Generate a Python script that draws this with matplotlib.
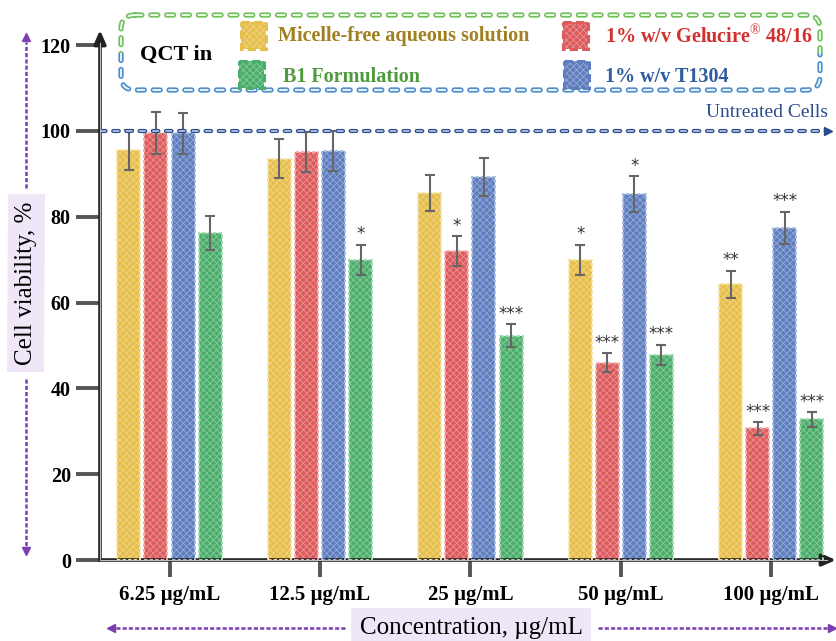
import matplotlib
matplotlib.use('Agg')
import matplotlib.pyplot as plt
import numpy as np
from matplotlib.patches import FancyBboxPatch, Rectangle

plt.rcParams['lines.scale_dashes'] = False
plt.rcParams['hatch.linewidth'] = 0.6
plt.rcParams['mathtext.fontset'] = 'custom'
plt.rcParams['mathtext.rm'] = 'Liberation Serif'

# data
concs = ['6.25 µg/mL', '12.5 µg/mL', '25 µg/mL', '50 µg/mL', '100 µg/mL']
micelle_free = [95.5, 93.5, 85.5, 70.0, 64.2]
micelle_free_err = [4.7, 4.6, 4.2, 3.5, 3.2]
gelucire = [99.5, 95.1, 72.0, 46.0, 30.7]
gelucire_err = [4.8, 4.7, 3.5, 2.2, 1.5]
t1304 = [99.4, 95.3, 89.3, 85.3, 77.4]
t1304_err = [4.8, 4.7, 4.4, 4.2, 3.8]
b1 = [76.2, 70.0, 52.3, 47.8, 32.8]
b1_err = [3.9, 3.5, 2.7, 2.4, 1.7]
stars_micelle = ['', '', '', '*', '**']
stars_gelucire = ['', '', '*', '***', '***']
stars_t1304 = ['', '', '', '*', '***']
stars_b1 = ['', '*', '***', '***', '***']
untreated = 100

# face, hatch, dashed edge
styles = {
    'yellow': ('#e6be4c', '#f0d482', '#f7e3a0'),
    'red': ('#dc5b5d', '#ea9192', '#f2b0b0'),
    'blue': ('#5f7ebd', '#93a9d8', '#aabde2'),
    'green': ('#4bad6b', '#86cb9a', '#a2d9b2'),
}

W, H = 836, 641
fig = plt.figure(figsize=(W / 100, H / 100), dpi=100)
ax = fig.add_axes([100 / W, (H - 560) / H, 736 / W, 530 / H])

x = np.arange(len(concs))
width = 0.153
step = 0.18
xl, xr = -0.462, 4.43
ytop = 123.5

groups = [
    (micelle_free, micelle_free_err, stars_micelle, 'yellow'),
    (gelucire, gelucire_err, stars_gelucire, 'red'),
    (t1304, t1304_err, stars_t1304, 'blue'),
    (b1, b1_err, stars_b1, 'green'),
]

for i, (vals, errs, stars, c) in enumerate(groups):
    face, hc, ec = styles[c]
    xs = x + (i - 1.5) * step
    ax.bar(xs, vals, width, color=face, edgecolor='none', zorder=2)
    ax.bar(xs, vals, width, fill=False, hatch='xxxxx', edgecolor=hc, lw=0, zorder=3)
    ax.bar(xs, vals, width, fill=False, edgecolor=ec, lw=1.4,
           linestyle=(0, (2.5, 1.5)), zorder=4)
    ax.errorbar(xs, vals, yerr=errs, fmt='none', ecolor='#666666',
                elinewidth=1.5, capsize=3.5, capthick=1.5, zorder=5)
    for j, s in enumerate(stars):
        if s:
            ax.text(xs[j], vals[j] + errs[j] + 0.3, s, ha='center', va='bottom',
                    fontsize=12, color='#333333', zorder=6)

# untreated cells reference line
ax.plot([xl, xr - 0.06], [untreated, untreated], color='#2b4c8c', lw=3,
        linestyle=(0, (4, 5.5)), dash_capstyle='round', zorder=7)
ax.plot([xl, xr - 0.06], [untreated, untreated], color='#c9d5ee', lw=1.1,
        linestyle=(0, (4, 5.5)), dash_capstyle='round', zorder=7)
ax.plot([xr - 0.05], [untreated], marker='>', color='#2b4c8c', ms=6, zorder=7, clip_on=False)
ax.text(xr - 0.05, untreated + 2.2, 'Untreated Cells', ha='right', va='bottom',
        fontsize=14, color='#2b4c8c', family='Liberation Serif')

ax.set_xlim(xl, xr)
ax.set_ylim(0, ytop)
for sp in ax.spines.values():
    sp.set_visible(False)

# axis lines with arrows
ax.annotate('', xy=(xl, ytop), xytext=(xl, 0), annotation_clip=False,
            arrowprops=dict(arrowstyle='-|>,head_width=0.35,head_length=0.8',
                            lw=2.6, color='#222222', shrinkA=0, shrinkB=0))
ax.annotate('', xy=(xr, 0), xytext=(xl, 0), annotation_clip=False,
            arrowprops=dict(arrowstyle='-|>,head_width=0.35,head_length=0.8',
                            lw=2.6, color='#222222', shrinkA=0, shrinkB=0))
ax.plot([xl, xl], [0, ytop - 3], color='#bbbbbb', lw=0.8, clip_on=False, zorder=8)
ax.plot([xl, xr - 0.06], [0, 0], color='#bbbbbb', lw=0.8, clip_on=False, zorder=8)

ax.set_yticks(range(0, 121, 20))
ax.set_xticks(x)
ax.set_xticklabels(concs)
ax.tick_params(axis='y', direction='out', length=17, width=2.8, color='#555555', pad=4)
ax.tick_params(axis='x', direction='out', length=12, width=2.8, color='#555555', pad=6)
for lab in ax.get_yticklabels():
    lab.set_fontfamily('Liberation Serif')
    lab.set_fontweight('bold')
    lab.set_fontsize(14.5)
for lab in ax.get_xticklabels():
    lab.set_fontfamily('Liberation Serif')
    lab.set_fontweight('bold')
    lab.set_fontsize(15)

# overlay in pixel coordinates for legend and axis titles
ov = fig.add_axes([0, 0, 1, 1], zorder=10)
ov.set_xlim(0, W)
ov.set_ylim(H, 0)
ov.axis('off')
ov.patch.set_visible(False)

purple = '#7b3fb0'
lav = '#efe6f7'
ov.text(26, 283, 'Cell viability, %', rotation=90, ha='center', va='center',
        fontsize=18, family='Liberation Serif',
        bbox=dict(boxstyle='square,pad=0.3', fc=lav, ec='none'))
ov.plot([26, 26], [188, 42], color=purple, lw=1.8, linestyle=(0, (3, 1.5)))
ov.plot([26], [37], marker='^', color=purple, ms=6)
ov.plot([26, 26], [379, 546], color=purple, lw=1.8, linestyle=(0, (3, 1.5)))
ov.plot([26], [551], marker='v', color=purple, ms=6)

ov.text(471, 628, 'Concentration, µg/mL', ha='center', va='center',
        fontsize=18, family='Liberation Serif',
        bbox=dict(boxstyle='square,pad=0.35', fc=lav, ec='none'))
ov.plot([345, 115], [628, 628], color=purple, lw=1.8, linestyle=(0, (3, 1.5)))
ov.plot([111], [628], marker='<', color=purple, ms=6)
ov.plot([598, 828], [628, 628], color=purple, lw=1.8, linestyle=(0, (3, 1.5)))
ov.plot([832], [628], marker='>', color=purple, ms=6)

# legend frame: green upper half, blue lower half
mid = 52.5
for col, inner, y0, y1 in [('#6cc05a', '#eaf6e4', 0, mid),
                           ('#4a8ccc', '#e4eef8', mid, H)]:
    cr = Rectangle((0, y0), W, y1 - y0, transform=ov.transData)
    for lw, c in [(3.8, col), (1.5, inner)]:
        box = FancyBboxPatch((121, 15), 699, 75, boxstyle='round,pad=0,rounding_size=14',
                             fill=False, ec=c, lw=lw, linestyle=(0, (5, 6.4)),
                             capstyle='round')
        ov.add_patch(box)
        box.set_clip_path(cr)

ov.text(140, 55, 'QCT in', ha='left', va='center', fontsize=16, fontweight='bold',
        family='Liberation Serif')

legend_items = [
    ('yellow', (241, 22), 'Micelle-free aqueous solution', (278, 36), '#a08020'),
    ('red', (563, 22), r'1% w/v Gelucire$^{\circledR}$ 48/16', (605, 36), '#d22f2f'),
    ('green', (239, 61), 'B1 Formulation', (283, 77), '#4e9a3c'),
    ('blue', (564, 61), '1% w/v T1304', (605, 77), '#2f5c9e'),
]
for c, (ix, iy), label, (tx, ty), tc in legend_items:
    face, hc, ec = styles[c]
    ov.add_patch(Rectangle((ix, iy), 25, 27, fc=face, ec='none'))
    ov.add_patch(Rectangle((ix, iy), 25, 27, fill=False, hatch='xxxxx', ec=hc, lw=0))
    ov.add_patch(Rectangle((ix, iy), 25, 27, fill=False, ec=face, lw=2.2,
                           linestyle=(0, (6, 3))))
    ov.text(tx, ty, label, ha='left', va='center', fontsize=14.5, fontweight='bold',
            family='Liberation Serif', color=tc)

fig.savefig('out.png', dpi=100)
